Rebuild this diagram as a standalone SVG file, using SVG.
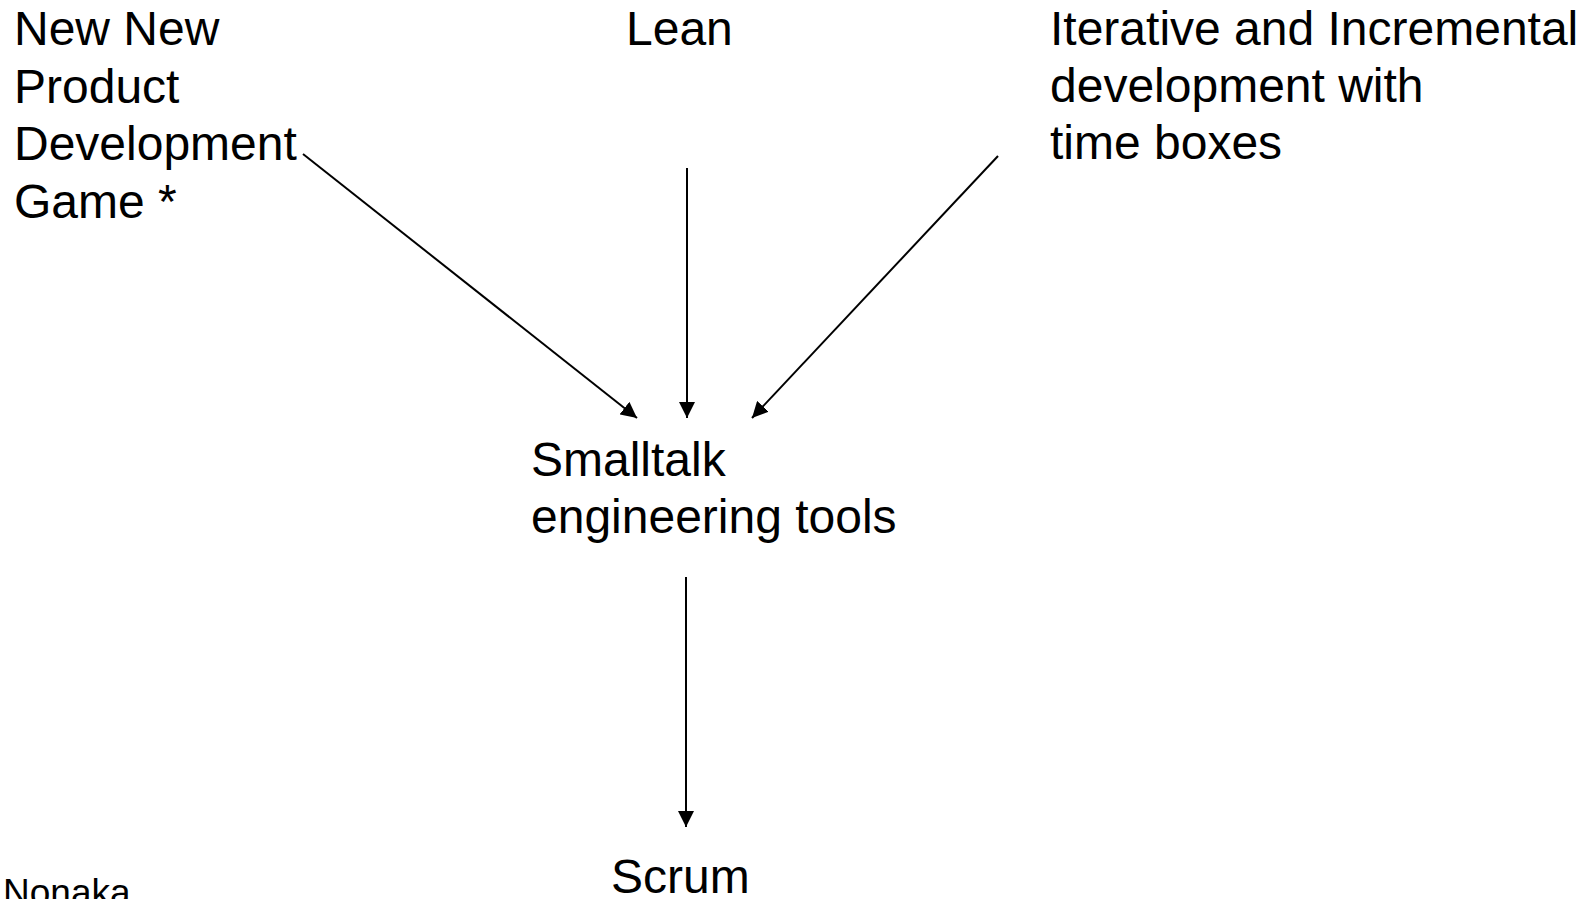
<svg xmlns="http://www.w3.org/2000/svg" width="1593" height="899" viewBox="0 0 1593 899">
<style>
text{font-family:"Liberation Sans",Arial,sans-serif;font-size:48px;fill:#000}
.c line{stroke:#000;stroke-width:2;fill:none}
</style>
<defs>
<marker id="ah" markerWidth="16" markerHeight="16" viewBox="0 0 16 16" refX="16" refY="8" orient="auto" markerUnits="userSpaceOnUse">
<path d="M0,0 L16,8 L0,16 Z" fill="#000"/>
</marker>
</defs>
<rect width="1593" height="899" fill="#fff"/>
<g id="nnpdg"><text x="14" y="45">New New</text><text x="14" y="102.5">Product</text><text x="14" y="160">Development</text><text x="14" y="217.5">Game *</text></g>
<g id="lean"><text x="626" y="45">Lean</text></g>
<g id="iid"><text x="1050" y="45">Iterative and Incremental</text><text x="1050" y="102">development with</text><text x="1050" y="159">time boxes</text></g>
<g id="smalltalk"><text x="531" y="475.5">Smalltalk</text><text x="531" y="532.5">engineering tools</text></g>
<g id="scrum"><text x="611" y="893">Scrum</text></g>
<g id="nonaka"><text x="3" y="905" style="font-size:37px">Nonaka</text></g>
<g class="c" id="connectors">
<line x1="303" y1="154" x2="637" y2="418" marker-end="url(#ah)"/>
<line x1="687" y1="168" x2="687" y2="418" marker-end="url(#ah)"/>
<line x1="998" y1="156" x2="752" y2="418" marker-end="url(#ah)"/>
<line x1="686" y1="577" x2="686" y2="827" marker-end="url(#ah)"/>
</g>
</svg>
